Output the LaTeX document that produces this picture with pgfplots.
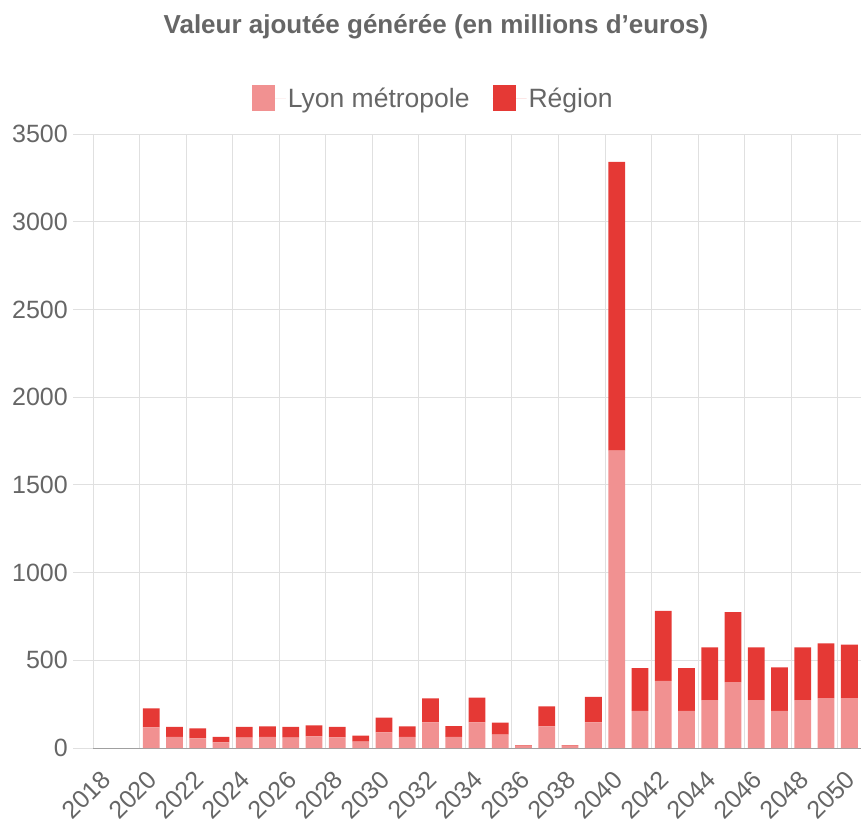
\documentclass[border=0pt]{standalone}
\usepackage{fontspec}
\setmainfont{Liberation Sans}
\usepackage{pgfplots}
\pgfplotsset{compat=1.18}
\usepackage{pgfplotstable}

\definecolor{lyon}{RGB}{241,145,145}
\definecolor{region}{RGB}{229,57,53}
\definecolor{txt}{RGB}{102,102,102}
\definecolor{gridc}{RGB}{224,224,224}
\definecolor{zeroc}{RGB}{160,160,160}

% valeur ajoutee, millions d'euros
\pgfplotstableread{
idx year lyon region
0  2018 0    0
1  2019 0    0
2  2020 118  108
3  2021 64   57
4  2022 55   57
5  2023 32   32
6  2024 59   62
7  2025 64   60
8  2026 59   62
9  2027 67   62
10 2028 60   61
11 2029 36   34
12 2030 89   84
13 2031 64   60
14 2032 146  137
15 2033 64   61
16 2034 146  141
17 2035 76   68
18 2036 12   3
19 2037 124  114
20 2038 12   3
21 2039 146  145
22 2040 1695 1646
23 2041 212  243
24 2042 383  398
25 2043 212  243
26 2044 273  301
27 2045 375  399
28 2046 273  301
29 2047 212  247
30 2048 273  301
31 2049 284  313
32 2050 284  306
}\va

\begin{document}
\begin{tikzpicture}
\useasboundingbox (0,0) rectangle (861pt,823pt);
\begin{axis}[
  at={(93pt,75pt)}, anchor=south west,
  scale only axis, width=768pt, height=614pt,
  xmin=-0.5, xmax=32.5, ymin=0, ymax=3500,
  ybar stacked, bar width=0.72,
  axis line style={draw=none},
  tick align=outside, tick pos=left,
  major tick length=20pt,
  xtick={0,2,...,32},
  xticklabels={2018,2020,2022,2024,2026,2028,2030,2032,2034,2036,2038,2040,2042,2044,2046,2048,2050},
  x tick style={draw=none},
  extra x ticks={-0.5,1.5,...,31.5},
  extra x tick labels={},
  extra x tick style={grid=major, major tick length=9pt, tick style={draw=gridc, line width=1pt}},
  ytick={500,1000,...,3500},
  extra y ticks={0},
  extra y tick style={grid=major, grid style={draw=zeroc}, tick style={draw=zeroc}},
  ymajorgrids,
  grid style={draw=gridc, line width=1pt},
  y tick style={draw=gridc, line width=1pt},
  /pgf/number format/1000 sep={},
  /pgf/number format/assume math mode=true,
  tick label style={font=\fontsize{25}{30}\selectfont, text=txt},
  xticklabel style={rotate=45, anchor=north east, inner sep=0pt, xshift=-4pt, yshift=3pt},
  yticklabel style={anchor=east, inner sep=0pt, xshift=-5pt},
  legend style={at={(0.443,1)}, anchor=center, yshift=36pt, draw=none, fill=none,
    legend columns=-1, font=\fontsize{26.5}{30}\selectfont, text=txt,
    /tikz/every even column/.append style={column sep=21pt}},
  legend image code/.code={\fill[#1, draw=none] (0pt,-13pt) rectangle (23pt,13pt);
    \path (0pt,0pt) -- (34pt,0pt);},
]
\addplot[fill=lyon, draw=none] table[x=idx, y=lyon] {\va};
\addplot[fill=region, draw=none] table[x=idx, y=region] {\va};
\legend{Lyon métropole, Région}
\end{axis}
\node[text=txt, font=\bfseries\fontsize{26}{30}\selectfont] at (436pt,796pt) {Valeur ajoutée générée (en millions d'euros)};
\end{tikzpicture}
\end{document}
